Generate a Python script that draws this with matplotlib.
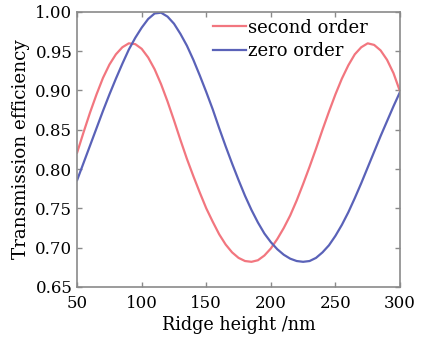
import matplotlib
matplotlib.use("Agg")
import matplotlib.pyplot as plt
from matplotlib.ticker import FormatStrFormatter

# ridge height (nm), values every 5 nm
height = list(range(50, 301, 5))

second_order = [
    0.821, 0.847, 0.872, 0.895, 0.916, 0.933, 0.946, 0.955, 0.960, 0.959,
    0.953, 0.942, 0.927, 0.908, 0.886, 0.862, 0.837, 0.813, 0.791, 0.770,
    0.750, 0.733, 0.717, 0.704, 0.694, 0.687, 0.683, 0.682, 0.684, 0.690,
    0.699, 0.711, 0.725, 0.741, 0.760, 0.781, 0.803, 0.826, 0.850, 0.873,
    0.895, 0.915, 0.932, 0.946, 0.955, 0.960, 0.958, 0.951, 0.939, 0.922,
    0.899,
]

zero_order = [
    0.786, 0.808, 0.830, 0.852, 0.874, 0.895, 0.915, 0.934, 0.952, 0.967,
    0.980, 0.991, 0.998, 0.999, 0.994, 0.985, 0.972, 0.957, 0.939, 0.919,
    0.898, 0.876, 0.852, 0.829, 0.807, 0.786, 0.766, 0.748, 0.732, 0.718,
    0.707, 0.698, 0.691, 0.686, 0.683, 0.682, 0.683, 0.687, 0.694, 0.703,
    0.715, 0.729, 0.745, 0.763, 0.782, 0.802, 0.822, 0.842, 0.861, 0.880,
    0.898,
]

plt.rcParams['font.family'] = 'DejaVu Serif'
plt.rcParams['font.size'] = 12

fig = plt.figure(figsize=(4.31, 3.40), dpi=100)
ax = fig.add_axes([0.179, 0.156, 0.749, 0.809])

ax.plot(height, second_order, color='#f2767f', linewidth=1.6, label='second order')
ax.plot(height, zero_order, color='#5a62b8', linewidth=1.6, label='zero order')

ax.set_xlim(50, 300)
ax.set_ylim(0.65, 1.00)
ax.set_xticks(range(50, 301, 50))
ax.set_yticks([0.65 + 0.05 * i for i in range(8)])
ax.yaxis.set_major_formatter(FormatStrFormatter('%.2f'))

for s in ax.spines.values():
    s.set_color('#8a8a8a')
    s.set_linewidth(1.2)
ax.tick_params(direction='in', length=3.5, width=1, color='#8a8a8a',
               top=True, right=True, labelcolor='black')
ax.tick_params(axis='x', pad=6)
ax.tick_params(axis='y', pad=3.5)

ax.set_xlabel('Ridge height /nm', fontsize=12.7, labelpad=3)
ax.set_ylabel('Transmission efficiency', fontsize=13.2, labelpad=4)

ax.legend(loc='upper left', bbox_to_anchor=(0.421, 0.975), frameon=False,
          fontsize=13, borderpad=0, borderaxespad=0, handlelength=1.8,
          handletextpad=0.15, labelspacing=0.3)

fig.savefig('out.png', dpi=100)
